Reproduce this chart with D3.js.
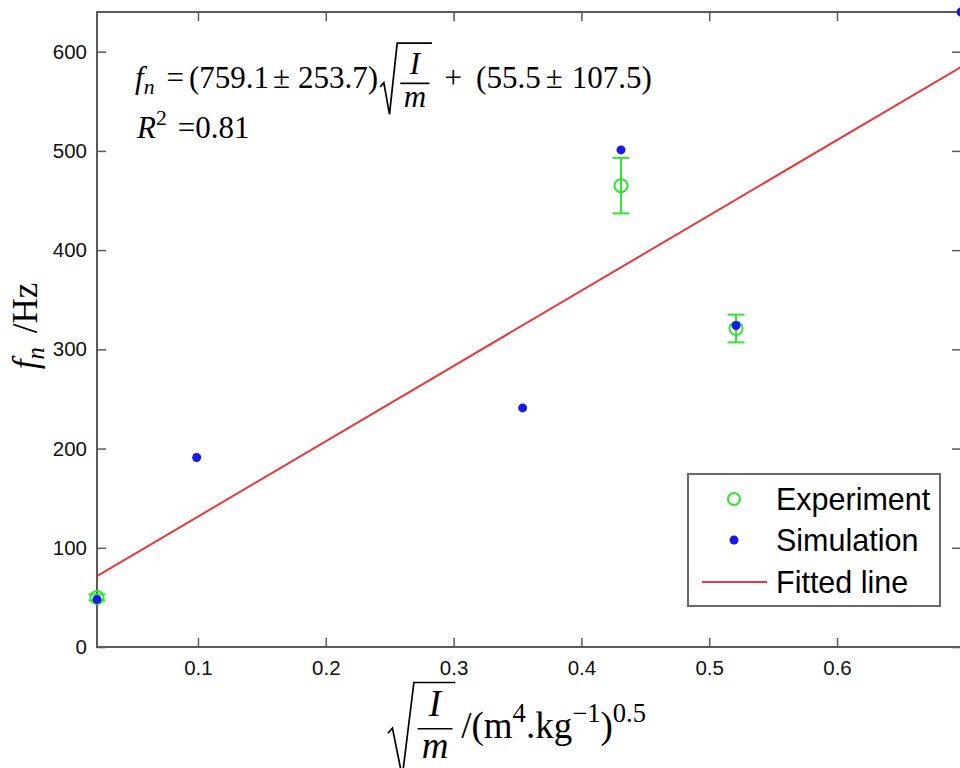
<!DOCTYPE html>
<html>
<head>
<meta charset="utf-8">
<script src="https://cdn.jsdelivr.net/npm/d3@7"></script>
<style>
  html, body { margin: 0; padding: 0; background: #fff; }
  svg text { white-space: pre; }
</style>
</head>
<body>
<svg id="chart" width="960" height="768"></svg>
<script>
// ---------------- data ----------------
const expX = [0.021, 0.431, 0.521];
const expY = [50, 465, 321];
const expErr = [3, 28, 14];
const simX = [0.021, 0.099, 0.354, 0.431, 0.521, 0.697];
const simY = [48, 191, 241, 501, 324, 640];
const fitX = [0.021, 0.697];
const fitY = [71.4, 584.6];
const xTicks = [0.1, 0.2, 0.3, 0.4, 0.5, 0.6];
const yTicks = [0, 100, 200, 300, 400, 500, 600];
const legendLabels = ["Experiment", "Simulation", "Fitted line"];

// ---------------- layout ----------------
const svg = d3.select("#chart");
const L = 97, R = 961, T = 12, B = 647;
const x = d3.scaleLinear().domain([0.021, 0.697]).range([L, R]);
const y = d3.scaleLinear().domain([0, 640]).range([B, T]);

const GREEN = "#2ee62e", BLUE = "#1a1ae6", RED = "#e8383d", AX = "#5a5a5a";
const SANS = "'Liberation Sans', Arial, Helvetica, sans-serif";
const SERIF = "'Liberation Serif', 'Times New Roman', serif";

// axes (ticks inward)
const tickFmt = d => d === 0 ? "0" : d3.format(".1f")(d);
const gx = svg.append("g").attr("transform", `translate(0,${B})`)
  .call(d3.axisBottom(x).tickValues(xTicks).tickFormat(tickFmt).tickSizeInner(-9).tickSizeOuter(0).tickPadding(13));
const gy = svg.append("g").attr("transform", `translate(${L},0)`)
  .call(d3.axisLeft(y).tickValues(yTicks).tickFormat(d3.format("d")).tickSizeInner(-9).tickSizeOuter(0).tickPadding(10));
const gxt = svg.append("g").attr("transform", `translate(0,${T})`)
  .call(d3.axisTop(x).tickValues(xTicks).tickFormat("").tickSizeInner(-9).tickSizeOuter(0));
const gyr = svg.append("g").attr("transform", `translate(${R},0)`)
  .call(d3.axisRight(y).tickValues(yTicks).tickFormat("").tickSizeInner(-9).tickSizeOuter(0));
[gx, gy, gxt, gyr].forEach(g => {
  g.select(".domain").remove();
  g.selectAll(".tick line").attr("stroke", AX).attr("stroke-width", 1.5);
  g.selectAll(".tick text").attr("font-family", SANS).attr("font-size", 20.5).attr("fill", "#111");
});
svg.append("rect").attr("x", L).attr("y", T).attr("width", R - L).attr("height", B - T)
  .attr("fill", "none").attr("stroke", AX).attr("stroke-width", 2);

// fitted line
svg.append("path")
  .attr("d", d3.line().x((d, i) => x(fitX[i])).y(d => y(d))(fitY))
  .attr("fill", "none").attr("stroke", RED).attr("stroke-width", 2);

// experiment error bars + circles
const cap = 8.5;
expX.forEach((xv, i) => {
  const g = svg.append("g").attr("stroke", GREEN).attr("stroke-width", 2).attr("fill", "none");
  const cx = x(xv), yt = y(expY[i] + expErr[i]), yb = y(expY[i] - expErr[i]);
  g.append("line").attr("x1", cx).attr("x2", cx).attr("y1", yt).attr("y2", yb);
  g.append("line").attr("x1", cx - cap).attr("x2", cx + cap).attr("y1", yt).attr("y2", yt);
  g.append("line").attr("x1", cx - cap).attr("x2", cx + cap).attr("y1", yb).attr("y2", yb);
  g.append("circle").attr("cx", cx).attr("cy", y(expY[i])).attr("r", 6.5).attr("fill", "none");
});

// simulation dots
svg.append("g").selectAll("circle").data(simY).join("circle")
  .attr("cx", (d, i) => x(simX[i])).attr("cy", d => y(d)).attr("r", 4.5).attr("fill", BLUE);

// ---------------- math text helper ----------------
function mathRun(g, parts, fs) {
  let cx = 0;
  parts.forEach(p => {
    if (p.gap) { cx += p.gap; return; }
    if (p.frac) {
      const [num, den] = p.frac;
      const bar = -(p.bar || 0.27) * fs;
      const tn = g.append("text").attr("font-family", SERIF).attr("font-size", fs)
        .attr("font-style", "italic").attr("text-anchor", "middle").text(num);
      const td = g.append("text").attr("font-family", SERIF).attr("font-size", fs)
        .attr("font-style", "italic").attr("text-anchor", "middle").text(den);
      const fw = Math.max(tn.node().getComputedTextLength(), td.node().getComputedTextLength()) + 0.3 * fs;
      const top = bar - p.top * fs, bot = bar + p.bot * fs;
      const rw = p.rw * fs;
      const path = `M${cx},${bar + 0.12 * fs} L${cx + 0.12 * fs},${bar - 0.02 * fs} L${cx + rw * 0.55},${bot} L${cx + rw},${top} L${cx + rw + fw + 0.1 * fs},${top}`;
      g.append("path").attr("d", path).attr("fill", "none").attr("stroke", "#000").attr("stroke-width", 1.7).attr("stroke-linejoin", "miter");
      const fc = cx + rw + 0.06 * fs + fw / 2;
      g.append("line").attr("x1", fc - fw / 2 + 0.04 * fs).attr("x2", fc + fw / 2 - 0.04 * fs)
        .attr("y1", bar).attr("y2", bar).attr("stroke", "#000").attr("stroke-width", 1.7);
      tn.attr("x", fc).attr("y", bar - p.nOff * fs);
      td.attr("x", fc).attr("y", bar + p.dOff * fs);
      cx += rw + fw + 0.12 * fs;
      return;
    }
    const size = (p.sub || p.sup) ? fs * (p.ss || 0.7) : fs;
    const dy = p.sub ? fs * 0.2 : p.sup ? -fs * 0.42 : 0;
    const t = g.append("text").attr("x", cx).attr("y", dy)
      .attr("font-family", SERIF).attr("font-size", size)
      .attr("font-style", p.it ? "italic" : "normal").attr("fill", "#000").text(p.t);
    cx += t.node().getComputedTextLength();
  });
  return cx;
}

// equation
const eq = svg.append("g").attr("transform", "translate(135,88)");
mathRun(eq, [
  { t: "f", it: true }, { t: "n", it: true, sub: true }, { gap: 12 },
  { t: "=" }, { gap: 5 }, { t: "(759.1" }, { gap: 4 }, { t: "±" }, { gap: 8 }, { t: "253.7)" }, { gap: 2 },
  { frac: ["I", "m"], bar: 0.15, top: 1.3, bot: 1.0, nOff: 0.3, dOff: 0.75, rw: 0.55 }, { gap: 12 },
  { t: "+" }, { gap: 14 }, { t: "(55.5" }, { gap: 5 }, { t: "±" }, { gap: 9 }, { t: "107.5)" }
], 31);

const r2 = svg.append("g").attr("transform", "translate(137,138)");
mathRun(r2, [{ t: "R", it: true }, { t: "2", sup: true }, { gap: 11 }, { t: "=0.81" }], 31);

// x label
const xl = svg.append("g");
mathRun(xl, [
  { frac: ["I", "m"], bar: 0.25, top: 1.25, bot: 1.3, nOff: 0.35, dOff: 0.78, rw: 0.7 }, { gap: 5 },
  { t: "/(m" }, { t: "4", sup: true, ss: 0.72 }, { t: ".kg" }, { t: "−1", sup: true, ss: 0.72 }, { t: ")" }, { t: "0.5", sup: true, ss: 0.72 }
], 37);
xl.attr("transform", `translate(${388},738)`);

// y label
const yl = svg.append("g");
const yw = mathRun(yl, [{ t: "f", it: true }, { t: "n", it: true, sub: true }, { gap: 14 }, { t: "/Hz" }], 35);
yl.attr("transform", `translate(37,${326}) rotate(-90) translate(${-yw / 2},0)`);

// ---------------- legend ----------------
const lg = svg.append("g");
lg.append("rect").attr("x", 688).attr("y", 474).attr("width", 252).attr("height", 132)
  .attr("fill", "#fff").attr("stroke", AX).attr("stroke-width", 1.8);
const rowY = [499, 540, 582];
legendLabels.forEach((lab, i) => {
  if (i === 0) lg.append("circle").attr("cx", 734).attr("cy", rowY[i]).attr("r", 6)
    .attr("fill", "none").attr("stroke", GREEN).attr("stroke-width", 2);
  if (i === 1) lg.append("circle").attr("cx", 734).attr("cy", rowY[i]).attr("r", 4.5).attr("fill", BLUE);
  if (i === 2) lg.append("line").attr("x1", 702).attr("x2", 767).attr("y1", rowY[i]).attr("y2", rowY[i])
    .attr("stroke", RED).attr("stroke-width", 2);
  lg.append("text").attr("x", 776).attr("y", rowY[i]).attr("dy", "0.36em")
    .attr("font-family", SANS).attr("font-size", 30.5).attr("fill", "#000").text(lab);
});
</script>
</body>
</html>
